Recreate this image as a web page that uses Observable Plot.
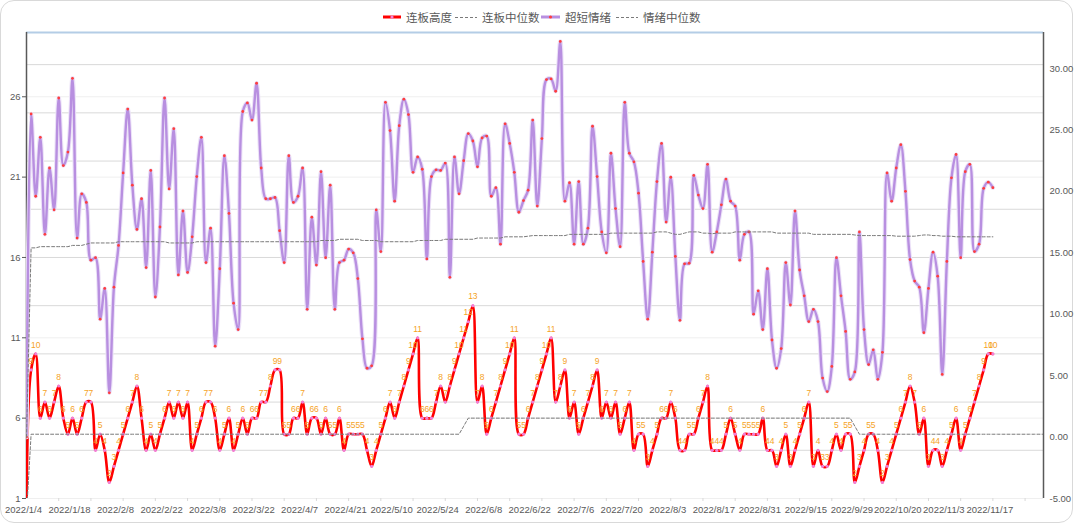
<!DOCTYPE html>
<html><head><meta charset="utf-8">
<script src="https://cdn.jsdelivr.net/npm/d3@7"></script>
<script src="https://cdn.jsdelivr.net/npm/@observablehq/plot@0.6"></script>
<style>
html,body{margin:0;padding:0;background:#fff;}
body{width:1080px;height:526px;overflow:hidden;position:relative;font-family:"Liberation Sans",Arial,sans-serif;}
#frame{position:absolute;left:0;top:0;width:1073px;height:523px;box-sizing:border-box;border:1px solid #d9d9d9;border-radius:14px;}
#legend{position:absolute;top:7px;left:0;height:20px;font-family:"Noto Sans CJK SC",sans-serif;font-size:11.5px;color:#595959;white-space:nowrap;}
#legend .it{position:absolute;top:0;height:20px;display:flex;align-items:center;}
#chart{position:absolute;left:0;top:29px;}
</style></head>
<body>
<div id="frame"></div>
<div id="legend"></div>
<div id="chart"></div>
<script>
// ---- data ----
const tickLabels = ["2022/1/4","2022/1/18","2022/2/8","2022/2/22","2022/3/8","2022/3/22","2022/4/7","2022/4/21","2022/5/10","2022/5/24","2022/6/8","2022/6/22","2022/7/6","2022/7/20","2022/8/3","2022/8/17","2022/8/31","2022/9/15","2022/9/29","2022/10/20","2022/11/3","2022/11/17"];
const seriesNames = ["连板高度","连板中位数","超短情绪","情绪中位数"];

// 连板高度 (left axis)
const heights = [
0,9,10,6,7,6,7,8,6,5,
6,5,6,7,7,4,5,4,2,3,
4,5,6,7,8,6,4,5,4,5,
6,7,6,7,6,7,4,5,6,7,
7,6,4,5,6,4,5,6,5,6,
6,7,7,8,9,9,5,5,6,6,
7,5,6,6,5,6,5,5,6,4,
5,5,5,5,4,3,4,5,6,7,
6,7,8,9,10,11,6,6,6,7,
8,7,8,9,10,11,12,13,7,8,
5,6,7,8,9,10,11,5,5,6,
7,8,9,10,11,7,8,9,6,7,
5,6,7,8,9,6,7,6,7,5,
6,7,4,5,5,3,4,5,6,6,
7,6,4,4,5,5,6,7,8,4,
4,4,5,6,5,4,5,5,5,5,
6,4,4,3,4,5,3,4,5,6,
7,3,4,3,3,4,5,4,5,5,
2,3,4,5,5,4,2,3,4,5,
6,7,8,7,5,6,3,4,4,3,
4,5,6,4,5,6,7,8,9,10,10];

// 连板中位数 (left axis)
const heightMedian = [
0,5,5,5,5,5,5,5,5,5,
5,5,5,5,5,5,5,5,5,5,
5,5,5,5,5,5,5,5,5,5,
5,5,5,5,5,5,5,5,5,5,
5,5,5,5,5,5,5,5,5,5,
5,5,5,5,5,5,5,5,5,5,
5,5,5,5,5,5,5,5,5,5,
5,5,5,5,5,5,5,5,5,5,
5,5,5,5,5,5,5,5,5,5,
5,5,5,5,5,5.5,6,6,6,6,
6,6,6,6,6,6,6,6,6,6,
6,6,6,6,6,6,6,6,6,6,
6,6,6,6,6,6,6,6,6,6,
6,6,6,6,6,6,6,6,6,6,
6,6,6,6,6,6,6,6,6,6,
6,6,6,6,6,6,6,6,6,6,
6,6,6,6,6,6,6,6,6,6,
6,6,6,6,6,6,6,6,6,6,
5.5,5,5,5,5,5,5,5,5,5,
5,5,5,5,5,5,5,5,5,5,
5,5,5,5,5,5,5,5,5,5,
5,5,5,5,5,5,5,5,5,5,5,5];

// 超短情绪 (right axis)
const emotions = [
0,26.3,19.6,24.4,16.5,21.9,18.5,27.6,22.1,23.2,
29.2,16.2,19.8,19.1,14.4,14.6,9.6,12.1,3.6,12.2,
15.6,21.5,26.7,20.5,16.9,19.4,13.8,21.7,11.4,17.1,
27.6,20.2,25.1,13.2,18.4,13.4,16.3,21.2,24.4,14.2,
17.0,7.4,13.7,22.9,18.2,10.9,8.75,26.5,27.2,25.8,
28.8,21.9,19.4,19.4,19.5,16.8,14.2,22.9,19.1,19.6,
21.9,10.4,17.9,14.0,21.6,14.6,20.5,10.4,14.2,14.4,
15.3,15.0,12.9,8.0,5.6,5.8,18.5,15.1,27.25,24.95,
19.2,25.35,27.5,26.25,21.55,22.8,21.8,14.5,21.2,21.75,
21.7,22.3,13.0,22.8,19.8,22.5,24.7,24.1,22.0,24.35,
24.5,19.6,20.3,15.7,25.5,23.9,21.55,18.3,19.25,20.1,
25.8,18.8,24.3,29.1,29.15,28.15,32.2,19.2,20.7,15.7,
20.8,15.7,17.0,25.3,21.2,16.7,15.0,23.1,18.6,15.5,
27.25,23.1,22.4,19.85,14.3,9.6,15.05,20.8,23.9,17.5,
21.15,14.7,9.5,14.1,14.15,21.3,19.7,18.6,22.2,15.05,
16.7,18.9,21.0,19.2,18.8,14.4,16.5,16.7,10.0,11.9,
8.75,13.7,7.9,5.6,7.2,14.2,10.75,18.4,13.6,11.5,
9.4,10.4,9.4,4.8,3.7,5.75,14.6,11.5,8.6,4.7,
5.3,16.7,8.75,5.9,7.1,4.7,6.9,21.5,19.2,21.9,
23.8,20.0,14.45,12.7,12.2,8.5,12.1,15.05,13.1,5.1,
14.3,21.1,23.0,14.6,21.6,22.2,15.1,15.7,20.25,20.75,20.3];

// 情绪中位数 (right axis)
const emotionMedian = [
0,15.4,15.4,15.5,15.5,15.5,15.5,15.5,15.5,15.5,
15.6,15.6,15.6,15.7,15.8,15.8,15.8,15.8,15.8,15.8,
15.9,15.9,15.9,15.9,15.9,15.9,15.9,15.9,15.9,15.9,
15.9,15.8,15.8,15.8,15.8,15.8,15.8,15.9,15.9,15.9,
15.9,15.9,15.9,15.9,15.9,15.9,15.9,15.9,15.9,15.9,
15.9,15.9,15.9,15.9,15.9,15.9,15.9,15.9,15.9,15.9,
15.9,15.9,15.9,15.9,16.0,16.0,16.0,16.0,16.1,16.1,
16.1,16.1,16.1,16.0,16.0,16.0,16.0,15.9,15.9,15.9,
15.9,15.9,15.9,15.9,15.9,16.0,16.0,16.0,16.0,16.0,
16.0,16.1,16.1,16.1,16.1,16.1,16.1,16.1,16.2,16.2,
16.2,16.2,16.2,16.2,16.3,16.3,16.3,16.3,16.3,16.35,
16.4,16.4,16.4,16.4,16.4,16.4,16.4,16.4,16.5,16.5,
16.5,16.5,16.5,16.5,16.5,16.5,16.5,16.6,16.6,16.6,
16.6,16.6,16.6,16.6,16.6,16.6,16.6,16.7,16.7,16.7,
16.6,16.5,16.5,16.6,16.7,16.7,16.7,16.6,16.6,16.55,
16.6,16.6,16.6,16.6,16.7,16.7,16.7,16.7,16.7,16.7,
16.7,16.7,16.7,16.6,16.6,16.6,16.6,16.6,16.6,16.6,
16.6,16.5,16.5,16.5,16.5,16.5,16.5,16.5,16.5,16.5,
16.45,16.4,16.4,16.4,16.4,16.4,16.4,16.4,16.4,16.35,
16.35,16.35,16.35,16.35,16.4,16.45,16.45,16.4,16.4,16.35,
16.35,16.35,16.3,16.3,16.3,16.3,16.3,16.3,16.3,16.3,16.3];

const leftTicks = [1,6,11,16,21,26];
const rightTicks = [-5,0,5,10,15,20,25,30];

// ---- scales ----
const L0 = 1, L1 = 30, R0 = -5, R1 = 32.93;
const toLeft = v => L0 + (v - R0) * (L1 - L0) / (R1 - R0);
const toRight = y => R0 + (y - L0) * (R1 - R0) / (L1 - L0);
const XMAX = 221;

const pts = heights.map((h, i) => ({i, h, e: toLeft(emotions[i]), em: toLeft(emotionMedian[i])}));
const hm = heightMedian.map((v, i) => ({i, v}));

const C = {red:"#ff0000", redDot:"#f27fd6", label:"#f5a31f", purple:"#b88fe0", purpleHalo:"#ece2f8", purpleDot:"#ff3d3d", med:"#7a7a7a", axis:"#595959", text:"#595959"};

const chart = Plot.plot({
  width: 1080, height: 497,
  marginTop: 3, marginBottom: 28, marginLeft: 26, marginRight: 37,
  x: {type: "linear", domain: [0, XMAX], axis: null, label: null},
  y: {type: "linear", domain: [L0, L1], axis: null, label: null},
  style: {fontFamily: "Liberation Sans, Arial, sans-serif", background: "transparent"},
  marks: [
    Plot.ruleY([1,6,11,16,21,26], {stroke: "#efefef", strokeWidth: 1}),
    Plot.ruleY([4,7,10,13,16,19,22,25,28], {stroke: "#d9d9d9", strokeWidth: 1}),
    Plot.ruleY([L1], {stroke: "#b4cde6", strokeWidth: 2}),
    Plot.ruleX([0], {stroke: C.axis, strokeWidth: 1.5}),
    Plot.ruleX([XMAX], {stroke: C.axis, strokeWidth: 1.5}),
    Plot.axisY({anchor: "left", label: null, ticks: leftTicks, tickSize: 4, tickPadding: 2, fontSize: 9.5, color: C.text}),
    Plot.axisY({anchor: "right", label: null, ticks: rightTicks.map(toLeft), tickFormat: d => Math.round(toRight(d)).toFixed(2), tickSize: 0, tickPadding: 6, fontSize: 9.5, color: C.text}),
    Plot.axisX({label: null, ticks: d3.range(0, 211, 10), tickFormat: d => tickLabels[Math.round(d / 10)], tickSize: 0, tickPadding: 8, fontSize: 9.5, color: C.text, dx: -3}),
    Plot.axisX({label: null, ticks: d3.range(7, XMAX, 7), tickFormat: () => "", tickSize: 3, stroke: "#d9d9d9"}),
    // 连板高度
    Plot.line(pts, {x: "i", y: "h", curve: "catmull-rom", stroke: C.red, strokeWidth: 2.6, clip: true}),
    Plot.dot(pts, {x: "i", y: "h", r: 1.6, fill: C.redDot, clip: true}),
    // 连板中位数
    Plot.line(hm, {x: "i", y: "v", stroke: C.med, strokeWidth: 1, strokeDasharray: "3,2", clip: true}),
    // 超短情绪
    Plot.line(pts, {x: "i", y: "e", curve: "catmull-rom", stroke: C.purpleHalo, strokeWidth: 4.5, clip: true}),
    Plot.line(pts, {x: "i", y: "e", curve: "catmull-rom", stroke: C.purple, strokeWidth: 2.4, clip: true}),
    Plot.dot(pts, {x: "i", y: "e", r: 1.4, fill: C.purpleDot, clip: true}),
    // 情绪中位数
    Plot.line(pts, {x: "i", y: "em", stroke: C.med, strokeWidth: 1, strokeDasharray: "3,2", clip: true}),
    // labels
    Plot.text(pts.filter(d => d.i > 0), {x: "i", y: "h", text: d => String(d.h), dy: -9, fill: C.label, fontSize: 8.5, clip: true})
  ]
});
document.getElementById("chart").appendChild(chart);

// ---- legend ----
const lg = document.getElementById("legend");
const items = [
  {x: 383, w: 18, kind: "solid", color: C.red, dot: C.redDot, name: seriesNames[0]},
  {x: 455, w: 22, kind: "dash", color: C.med, name: seriesNames[1]},
  {x: 541, w: 19, kind: "solid", color: C.purple, dot: C.purpleDot, name: seriesNames[2]},
  {x: 616, w: 22, kind: "dash", color: C.med, name: seriesNames[3]}
];
for (const it of items) {
  const d = document.createElement("div");
  d.className = "it";
  d.style.left = it.x + "px";
  let s = `<svg width="${it.w}" height="10" style="margin-right:5px">`;
  if (it.kind === "solid") {
    s += `<line x1="0" y1="5" x2="${it.w}" y2="5" stroke="${it.color}" stroke-width="3"/>`;
    s += `<circle cx="${it.w/2}" cy="5" r="1.6" fill="${it.dot}"/>`;
  } else {
    s += `<line x1="0" y1="5.5" x2="${it.w}" y2="5.5" stroke="${it.color}" stroke-width="1" stroke-dasharray="3,2"/>`;
  }
  s += `</svg><span>${it.name}</span>`;
  d.innerHTML = s;
  lg.appendChild(d);
}
</script>
</body></html>
